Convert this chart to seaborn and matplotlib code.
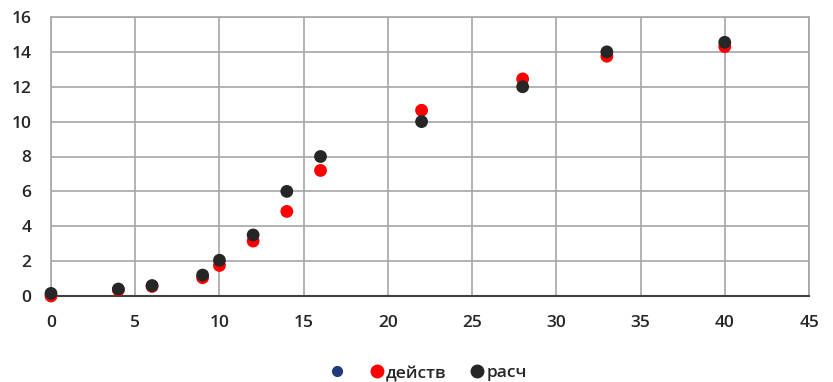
import pandas as pd
import seaborn as sns
import matplotlib.pyplot as plt

# values
x_vals = [0, 4, 6, 9, 10, 12, 14, 16, 22, 28, 33, 40]
deistv = [0.0, 0.35, 0.55, 1.05, 1.75, 3.15, 4.85, 7.2, 10.65, 12.45, 13.75, 14.3]
rasch = [0.15, 0.4, 0.6, 1.2, 2.05, 3.5, 6.0, 8.0, 10.0, 12.0, 14.0, 14.55]
empty_series = []  # first series in the legend has no points

x_ticks = list(range(0, 46, 5))
y_ticks = list(range(0, 17, 2))

sns.set_style("white")
plt.rcParams['font.family'] = ['Open Sans', 'DejaVu Sans']

df = pd.concat([
    pd.DataFrame({'x': x_vals, 'y': deistv, 'series': 'действ'}),
    pd.DataFrame({'x': x_vals, 'y': rasch, 'series': 'расч'}),
])

fig = plt.figure(figsize=(8.33, 3.82), dpi=100)
ax = fig.add_axes([51 / 833, 1 - 296 / 382, 758 / 833, 279 / 382])

palette = {'действ': '#ff0000', 'расч': '#262626'}
sns.scatterplot(data=df, x='x', y='y', hue='series', palette=palette,
                s=85, linewidth=0, ax=ax, legend=False, zorder=3, clip_on=False)
ax.scatter(empty_series, empty_series, color='#1f3a7a', s=60, linewidth=0)

ax.set_xlim(0, 45)
ax.set_ylim(0, 16)
ax.set_xticks(x_ticks)
ax.set_yticks(y_ticks)
ax.grid(True, color='#a6a6a6', linewidth=1.2)
ax.set_axisbelow(True)
for side in ['top', 'right', 'left']:
    ax.spines[side].set_color('#a6a6a6')
    ax.spines[side].set_linewidth(1.2)
ax.spines['bottom'].set_color('#404040')
ax.spines['bottom'].set_linewidth(1.5)
ax.tick_params(axis='x', length=0, labelsize=12.5, pad=14)
ax.tick_params(axis='y', length=0, labelsize=12.5, pad=14)
for lbl in ax.get_xticklabels() + ax.get_yticklabels():
    lbl.set_fontweight('semibold')
ax.set_xlabel('')
ax.set_ylabel('')

red_h = plt.Line2D([], [], marker='o', linestyle='', color='#ff0000', markersize=9)
blk_h = plt.Line2D([], [], marker='o', linestyle='', color='#262626', markersize=9)
blue_h = plt.Line2D([], [], marker='o', linestyle='', color='#1f3a7a', markersize=7)
fig.legend([blue_h, red_h, blk_h], ['', 'действ', 'расч'], loc='center',
           bbox_to_anchor=(428 / 833, 1 - 373 / 382), ncol=3, frameon=False,
           handletextpad=0.1, columnspacing=1.3, handlelength=0.9,
           prop={'weight': 'semibold', 'size': 12.5})

fig.savefig('out.png', dpi=100)
